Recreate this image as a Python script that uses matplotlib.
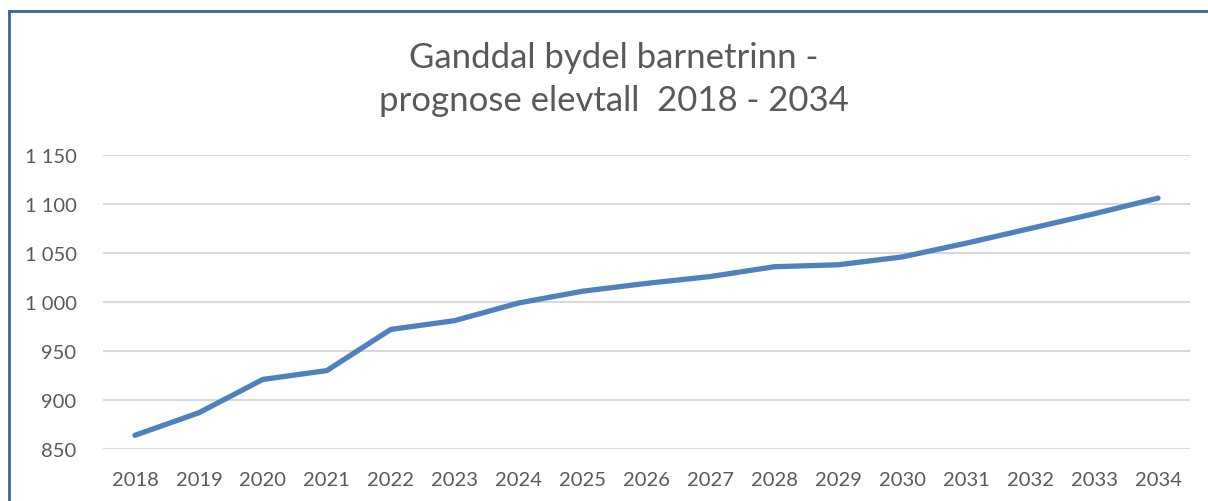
from __future__ import annotations

import matplotlib
import numpy as np

matplotlib.use("Agg")
import matplotlib.pyplot as plt
from matplotlib.lines import Line2D
from matplotlib.ticker import FuncFormatter

years = ["2018", "2019", "2020", "2021", "2022", "2023", "2024", "2025", "2026",
         "2027", "2028", "2029", "2030", "2031", "2032", "2033", "2034"]
pupils = [864, 887, 921, 930, 972, 981, 999, 1011, 1019,
          1026, 1036, 1038, 1046, 1060, 1075, 1090, 1106]
y_ticks = [850, 900, 950, 1000, 1050, 1100, 1150]
title_lines = ["Ganddal bydel barnetrinn -", "prognose elevtall  2018 - 2034"]

plt.rcParams["font.family"] = ["Lato", "DejaVu Sans"]
text_color = "#595959"

figure = plt.figure(figsize=(12.08, 5.02), dpi=100)
axis = figure.add_axes([103 / 1208, 1 - 450 / 502, 1087 / 1208, 294 / 502])

x = np.arange(len(years))
axis.plot(x, pupils, color="#4F81BD", linewidth=3.8,
          solid_capstyle="round", solid_joinstyle="round", zorder=3)

axis.set_xlim(-0.5, len(years) - 0.5)
axis.set_ylim(y_ticks[0], y_ticks[-1])
axis.set_xticks(x, years)
axis.set_yticks(y_ticks)
axis.yaxis.set_major_formatter(
    FuncFormatter(lambda v, _: f"{int(v):,}".replace(",", " ")))
axis.grid(axis="y", color="#D9D9D9", linewidth=1.5)
axis.set_axisbelow(True)
for spine in axis.spines.values():
    spine.set_visible(False)
axis.tick_params(axis="both", length=0, labelsize=14.5, colors=text_color)
axis.tick_params(axis="y", pad=19)
axis.tick_params(axis="x", pad=16)

figure.text(614 / 1208, 1 - 58 / 502, title_lines[0], ha="center", va="center",
            fontsize=25, color=text_color)
figure.text(614 / 1208, 1 - 101 / 502, title_lines[1], ha="center", va="center",
            fontsize=25, color=text_color)

# chart frame, only top and left edges are inside the crop
border = "#3A64A0"
figure.add_artist(Line2D([9 / 1208, 9 / 1208], [0, 1 - 12 / 502],
                         transform=figure.transFigure, color=border, linewidth=2))
figure.add_artist(Line2D([9 / 1208, 1], [1 - 12 / 502, 1 - 12 / 502],
                         transform=figure.transFigure, color=border, linewidth=2))

figure.savefig("out.png", dpi=100)
plt.close(figure)
